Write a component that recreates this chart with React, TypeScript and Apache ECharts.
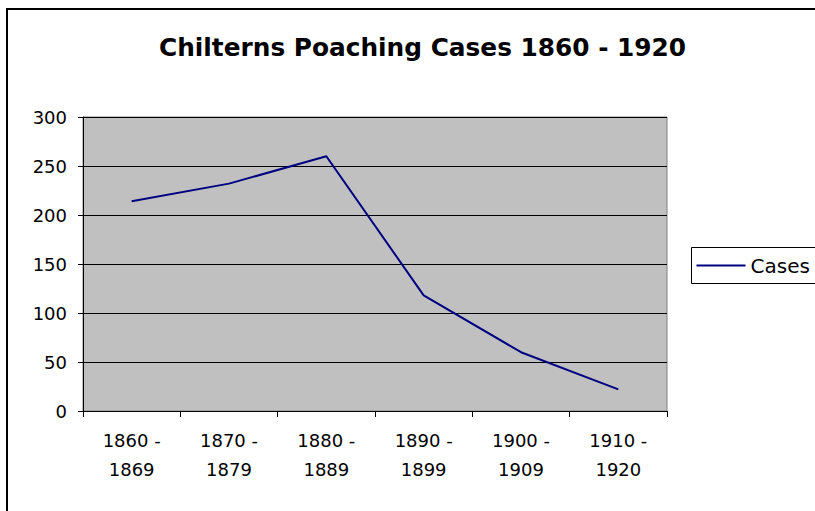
import React, { useEffect, useRef } from "react";
import * as echarts from "echarts";

const titleText = "Chilterns Poaching Cases 1860 - 1920";
const categories = ["1860 -\n1869", "1870 -\n1879", "1880 -\n1889", "1890 -\n1899", "1900 -\n1909", "1910 -\n1920"];
const seriesName = "Cases";
const cases = [214, 232, 260, 118, 60, 22];
const yMin = 0;
const yMax = 300;
const yStep = 50;

export default function App() {
  const ref = useRef<HTMLDivElement>(null);
  useEffect(() => {
    if (!ref.current) return;
    const chart = echarts.init(ref.current, null, { renderer: "svg" });
    const font = "DejaVu Sans";
    chart.setOption({
      animation: false,
      backgroundColor: "#ffffff",
      title: {
        text: titleText,
        left: 159,
        top: 35,
        padding: 0,
        textStyle: { fontFamily: font, fontWeight: "bold", fontSize: 24.8, color: "#000" },
      },
      legend: { show: false },
      graphic: [
        {
          type: "rect",
          z: -10,
          silent: true,
          shape: { x: 7, y: 9, width: 830, height: 530 },
          style: { fill: "none", stroke: "#000", lineWidth: 2 },
        },
        {
          type: "group",
          left: 691,
          top: 247,
          children: [
            {
              type: "rect",
              shape: { x: 0, y: 0, width: 140, height: 36 },
              style: { fill: "#fff", stroke: "#000", lineWidth: 1 },
            },
            {
              type: "line",
              shape: { x1: 5, y1: 18, x2: 54, y2: 18 },
              style: { stroke: "#000080", lineWidth: 2 },
            },
            {
              type: "text",
              x: 59,
              y: 18,
              style: {
                text: seriesName,
                fontFamily: font,
                fontSize: 20,
                fill: "#000",
                verticalAlign: "middle",
                align: "left",
              },
            },
          ],
        },
      ],
      grid: {
        left: 83,
        top: 117,
        width: 584,
        height: 294,
        show: true,
        backgroundColor: "#C0C0C0",
        borderColor: "#808080",
        borderWidth: 1,
      },
      xAxis: {
        type: "category",
        data: categories,
        boundaryGap: true,
        axisLine: { show: true, lineStyle: { color: "#000", width: 1 } },
        axisTick: { show: true, length: 6, lineStyle: { color: "#000" } },
        axisLabel: { fontFamily: font, fontSize: 18, color: "#000", lineHeight: 29, margin: 15, interval: 0 },
        splitLine: { show: false },
      },
      yAxis: {
        type: "value",
        min: yMin,
        max: yMax,
        interval: yStep,
        axisLine: { show: true, lineStyle: { color: "#000", width: 1 } },
        axisTick: { show: true, length: 5, lineStyle: { color: "#000" } },
        axisLabel: { fontFamily: font, fontSize: 18, color: "#000", margin: 16 },
        splitLine: { show: true, lineStyle: { color: "#000", width: 1 } },
      },
      series: [
        {
          name: seriesName,
          type: "line",
          data: cases,
          symbol: "none",
          color: "#000080",
          lineStyle: { color: "#000080", width: 2 },
        },
      ],
    });
    return () => chart.dispose();
  }, []);
  return <div ref={ref} style={{ position: "absolute", left: 0, top: 0, width: 815, height: 511 }} />;
}
